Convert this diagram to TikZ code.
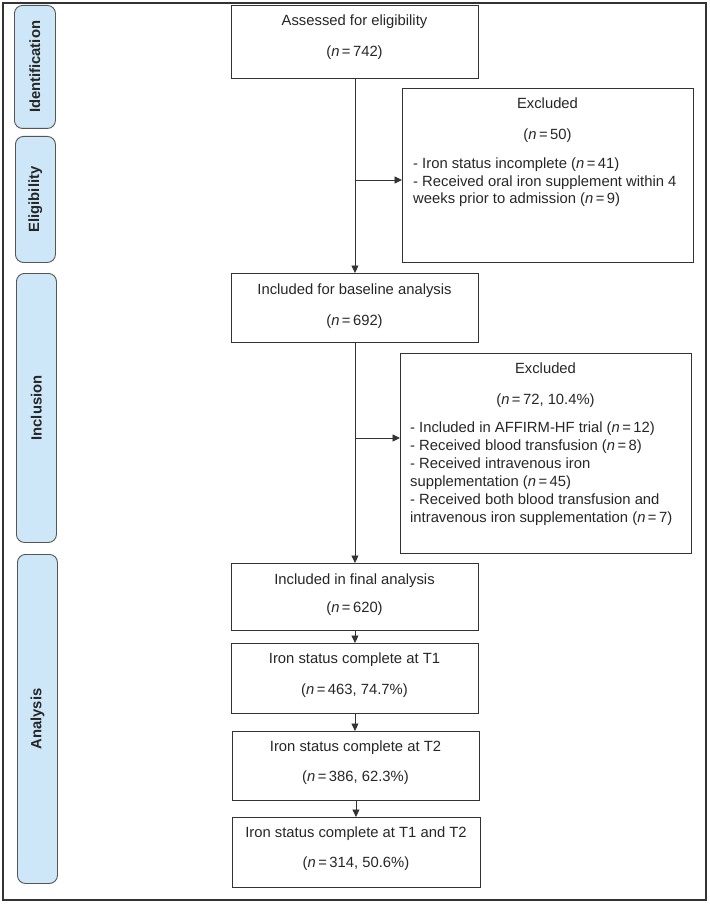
\documentclass[tikz,border=0pt]{standalone}
\usepackage{fontspec}
\setmainfont{Liberation Sans}
\usetikzlibrary{arrows.meta,calc}
\definecolor{lineg}{HTML}{333333}
\definecolor{labfill}{HTML}{CDE7F8}
\definecolor{labdraw}{HTML}{555555}
\newcommand{\nn}[1]{({\itshape n}\,=\,#1)}
\begin{document}
\begin{tikzpicture}[x=1pt,y=-1pt,
  every node/.style={font=\fontsize{14.8}{18}\selectfont, text=black!85},
  box/.style={draw=lineg, line width=0.9pt, rectangle, inner sep=0pt, anchor=north west},
  lab/.style={draw=labdraw, fill=labfill, line width=0.9pt, rounded corners=8pt, inner sep=0pt, anchor=north west},
  labtxt/.style={rotate=90, font=\fontsize{14.8}{18}\selectfont\bfseries},
  txt/.style={inner sep=0pt, anchor=base},
  ltxt/.style={inner sep=0pt, anchor=base west},
  conn/.style={draw=lineg, line width=0.9pt},
  arr/.style={conn, -{Triangle[length=7.5pt,width=7pt]}}
]
\useasboundingbox (0,0) rectangle (709,904);
\draw[line width=1.3pt, draw=lineg] (3,3) rectangle (706,900);

% side labels
\node[lab, minimum width=41pt, minimum height=123pt] (lid) at (14,5) {};
\node[labtxt] at (lid.center) {Identification};
\node[lab, minimum width=40pt, minimum height=126pt] (lel) at (15,136) {};
\node[labtxt] at (lel.center) {Eligibility};
\node[lab, minimum width=40pt, minimum height=269pt] (lin) at (16,273) {};
\node[labtxt] at (lin.center) {Inclusion};
\node[lab, minimum width=40pt, minimum height=329pt] (lan) at (17,554) {};
\node[labtxt] at (lan.center) {Analysis};

% main boxes
\node[box, minimum width=247pt, minimum height=73pt] (A) at (231,5) {};
\node[txt] at (354.5,26) {Assessed for eligibility};
\node[txt] at (354.5,57) {\nn{742}};

\node[box, minimum width=247pt, minimum height=69pt] (B) at (231,273) {};
\node[txt] at (354.5,294) {Included for baseline analysis};
\node[txt] at (354.5,325) {\nn{692}};

\node[box, minimum width=247pt, minimum height=67pt] (C) at (231,563) {};
\node[txt] at (354.5,584) {Included in final analysis};
\node[txt] at (354.5,612) {\nn{620}};

\node[box, minimum width=247pt, minimum height=70pt] (D) at (231,643) {};
\node[txt] at (354.5,663) {Iron status complete at T1};
\node[txt] at (354.5,694) {\nn{463, 74.7\%}};

\node[box, minimum width=247pt, minimum height=69pt] (E) at (232,731) {};
\node[txt] at (355.5,751) {Iron status complete at T2};
\node[txt] at (355.5,781) {\nn{386, 62.3\%}};

\node[box, minimum width=248pt, minimum height=70pt] (F) at (232,817) {};
\node[txt] at (356,837) {Iron status complete at T1 and T2};
\node[txt] at (356,867) {\nn{314, 50.6\%}};

% exclusion boxes
\node[box, minimum width=291pt, minimum height=174pt] (X1) at (402,88) {};
\node[txt] at (547.5,109) {Excluded};
\node[txt] at (547.5,140) {\nn{50}};
\node[ltxt] at (413,168) {- Iron status incomplete \nn{41}};
\node[ltxt] at (413,186) {- Received oral iron supplement within 4};
\node[ltxt] at (413,204) {weeks prior to admission \nn{9}};

\node[box, minimum width=291pt, minimum height=200pt] (X2) at (400,353) {};
\node[txt] at (545.5,373) {Excluded};
\node[txt] at (545.5,404) {\nn{72, 10.4\%}};
\node[ltxt] at (410,432) {- Included in AFFIRM-HF trial \nn{12}};
\node[ltxt] at (410,450) {- Received blood transfusion \nn{8}};
\node[ltxt] at (410,468) {- Received intravenous iron};
\node[ltxt] at (410,486) {supplementation \nn{45}};
\node[ltxt] at (410,504) {- Received both blood transfusion and};
\node[ltxt] at (410,522) {intravenous iron supplementation \nn{7}};

% connectors
\coordinate (j1) at (354.5,180);
\coordinate (j2) at (354.5,438);
\draw[arr] (A.south) -- (B.north);
\draw[arr] (j1) -- (j1 -| X1.west);
\draw[arr] (B.south) -- (C.north);
\draw[arr] (j2) -- (j2 -| X2.west);
\draw[arr] (C.south) -- (C.south |- D.north);
\draw[arr] (D.south) -- (D.south |- E.north);
\draw[arr] (E.south) -- (E.south |- F.north);
\end{tikzpicture}
\end{document}
